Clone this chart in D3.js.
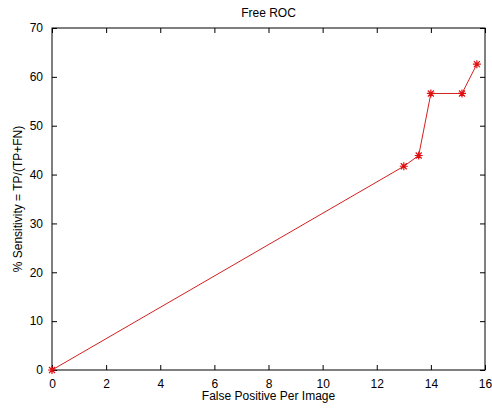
<!DOCTYPE html>
<html>
<head>
<meta charset="utf-8">
<script src="https://cdn.jsdelivr.net/npm/d3@7"></script>
<style>
body { margin: 0; background: #fff; }
text { font-family: "Liberation Sans", Arial, sans-serif; }
</style>
</head>
<body>
<div class="container"></div>
<script>
// data
var fppi = [0, 13.0, 13.55, 14.0, 15.15, 15.7];
var sens = [0, 41.7, 43.9, 56.6, 56.6, 62.6];
var xTicks = [0, 2, 4, 6, 8, 10, 12, 14, 16];
var yTicks = [0, 10, 20, 30, 40, 50, 60, 70];

var W = 492, H = 408;
// note: "top" is taken by window.top, so use other names
var mLeft = 52, mRight = 485, mTop = 28, mBottom = 370;

var svg = d3.select(".container")
	.append("svg")
	.attr("width", W)
	.attr("height", H);

var x = d3.scaleLinear().domain([0, 16]).range([mLeft, mRight]);
var y = d3.scaleLinear().domain([0, 70]).range([mBottom, mTop]);

function styleAxis(g) {
	g.select(".domain").remove();
	g.selectAll("line").attr("stroke", "#000");
	g.selectAll("text").attr("fill", "#000").style("font-size", "12px");
}

// bottom + left axes with labels, inward ticks
svg.append("g")
	.attr("transform", "translate(0," + mBottom + ")")
	.call(d3.axisBottom(x).tickValues(xTicks).tickSizeInner(-5).tickSizeOuter(0).tickPadding(9))
	.call(styleAxis);

svg.append("g")
	.attr("transform", "translate(" + mLeft + ",0)")
	.call(d3.axisLeft(y).tickValues(yTicks).tickSizeInner(-5).tickSizeOuter(0).tickPadding(9))
	.call(styleAxis);

// top + right ticks without labels
svg.append("g")
	.attr("transform", "translate(0," + mTop + ")")
	.call(d3.axisTop(x).tickValues(xTicks).tickSizeInner(-5).tickSizeOuter(0).tickFormat(""))
	.call(styleAxis);

svg.append("g")
	.attr("transform", "translate(" + mRight + ",0)")
	.call(d3.axisRight(y).tickValues(yTicks).tickSizeInner(-5).tickSizeOuter(0).tickFormat(""))
	.call(styleAxis);

svg.append("rect")
	.attr("x", mLeft).attr("y", mTop)
	.attr("width", mRight - mLeft).attr("height", mBottom - mTop)
	.attr("fill", "none").attr("stroke", "#000").attr("stroke-width", 1);

var pts = fppi.map(function(d, i) { return [d, sens[i]]; });

svg.append("path")
	.datum(pts)
	.attr("fill", "none")
	.attr("stroke", "#d42020")
	.attr("stroke-width", 1)
	.attr("d", d3.line().x(function(d) { return x(d[0]); }).y(function(d) { return y(d[1]); }));

svg.selectAll(".mark")
	.data(pts)
	.enter()
	.append("path")
	.attr("class", "mark")
	.attr("transform", function(d) { return "translate(" + x(d[0]) + "," + y(d[1]) + ")"; })
	.attr("d", "M-4,0H4M0,-4V4M-3,-3L3,3M-3,3L3,-3")
	.attr("stroke", "#e01010")
	.attr("stroke-width", 1.2)
	.attr("fill", "none");

svg.append("text")
	.attr("x", (mLeft + mRight) / 2).attr("y", 17)
	.attr("text-anchor", "middle")
	.style("font-size", "12px")
	.text("Free ROC");

svg.append("text")
	.attr("x", (mLeft + mRight) / 2).attr("y", 400)
	.attr("text-anchor", "middle")
	.style("font-size", "12px")
	.text("False Positive Per Image");

svg.append("text")
	.attr("transform", "translate(22," + ((mTop + mBottom) / 2) + ") rotate(-90)")
	.attr("text-anchor", "middle")
	.style("font-size", "12px")
	.text("% Sensitivity = TP/(TP+FN)");
</script>
</body>
</html>
